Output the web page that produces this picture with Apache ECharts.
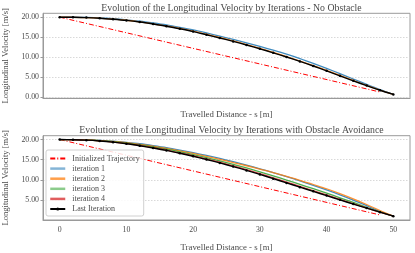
<!DOCTYPE html>
<html><head><meta charset="utf-8">
<script src="https://cdn.jsdelivr.net/npm/echarts@6/dist/echarts.min.js"></script>
<style>html,body{margin:0;padding:0;background:#fff}#c{width:415px;height:253px}</style>
</head><body><div id="c"></div>
<script>
const distance = [0,2,4,6,8,10,12,14,16,18,20,22,24,26,28,30,32,34,36,38,40,42,44,46,48,50];
const initDistance = [0, 48];
const initVelocity = [20, 1.3];

const topIter1 = [20,19.98,19.93,19.82,19.62,19.35,19.0,18.55,18.05,17.45,16.8,16.05,15.25,14.45,13.6,12.7,11.75,10.75,9.65,8.45,7.2,5.9,4.55,3.2,1.9,0.7];
const topIter2 = [20,19.97,19.91,19.77,19.53,19.23,18.84,18.35,17.82,17.2,16.52,15.74,14.93,14.08,13.17,12.2,11.2,10.15,9.05,7.9,6.7,5.45,4.2,2.95,1.78,0.7];
const topLast  = [20,19.97,19.9,19.75,19.5,19.2,18.8,18.3,17.75,17.1,16.4,15.6,14.8,13.95,13.05,12.1,11.1,10.05,8.95,7.8,6.6,5.35,4.1,2.9,1.75,0.7];

const botIter1 = [20,19.98,19.92,19.8,19.6,19.3,18.95,18.5,18.0,17.4,16.75,16.05,15.3,14.5,13.65,12.75,11.8,10.8,9.75,8.65,7.5,6.3,5.0,3.6,2.2,1.0];
const botIter2 = [20,19.97,19.9,19.75,19.52,19.2,18.8,18.35,17.8,17.2,16.55,15.85,15.1,14.3,13.5,12.65,11.8,10.85,9.9,8.85,7.8,6.6,5.3,3.9,2.4,1.0];
const botIter3 = [20,19.96,19.88,19.7,19.45,19.1,18.65,18.15,17.6,16.95,16.25,15.5,14.7,13.85,12.95,12.0,11.0,9.95,8.9,7.8,6.7,5.55,4.4,3.2,2.05,1.0];
const botIter4 = [20,19.95,19.86,19.67,19.38,19.0,18.52,17.98,17.4,16.72,15.98,15.2,14.37,13.48,12.55,11.55,10.5,9.45,8.4,7.32,6.25,5.17,4.1,3.05,2.0,1.0];
const botLast  = [20,19.95,19.85,19.65,19.35,18.95,18.45,17.9,17.3,16.6,15.85,15.05,14.2,13.3,12.35,11.35,10.3,9.25,8.2,7.15,6.1,5.05,4.0,3.0,2.0,1.0];

const xTicks = [0,10,20,30,40,50];
const yTicks = [0,5,10,15,20];
const titles = ['Evolution of the Longitudinal Velocity by Iterations - No Obstacle',
                'Evolution of the Longitudinal Velocity by Iterations with Obstacle Avoidance'];
const legendNames = ['Initialized Trajectory','iteration 1','iteration 2','iteration 3','iteration 4','Last Iteration'];

const FONT = 'Liberation Serif';
const TXT = '#4a4a4a';
const AX = '#9a9a9a';
const pairs = (xs, ys) => xs.map((x,i)=>[x, ys[i]]);

function xAxis(gi, showLabels){
  return {type:'value', gridIndex:gi, min:-2.5, max:52.5,
    name:'Travelled Distance - s [m]', nameLocation:'middle', nameGap: showLabels?23:12,
    nameTextStyle:{fontFamily:FONT,fontSize:8.8,color:TXT},
    axisLine:{show:true,onZero:false,lineStyle:{color:AX,width:1}},
    axisTick:{show:false, customValues:xTicks},
    axisLabel:{show:showLabels, customValues:xTicks, fontFamily:FONT,fontSize:7.8,color:TXT,margin:6},
    splitLine:{show:false}};
}
function yAxis(gi, mn, mx){
  return {type:'value', gridIndex:gi, min:mn, max:mx,
    name:'Longitudinal Velocity [m/s]', nameLocation:'middle', nameGap:29.5,
    nameTextStyle:{fontFamily:FONT,fontSize:8.6,color:TXT},
    axisLine:{show:true,onZero:false,lineStyle:{color:AX,width:1}},
    axisTick:{show:true, length:2.5, customValues:yTicks, lineStyle:{color:AX}},
    axisLabel:{customValues:yTicks, fontFamily:FONT,fontSize:7.8,color:TXT,margin:4,
      formatter:v=>v.toFixed(2)},
    splitLine:{show:true,lineStyle:{color:'#cfcfcf',type:[1.5,1.5],width:0.8}}};
}
const DASHDOT = [5,2,1,2];
function initSeries(gi){
  return {name:legendNames[0], type:'line', xAxisIndex:gi, yAxisIndex:gi, data:pairs(initDistance, initVelocity),
    symbol:'none', lineStyle:{color:'#ff0000',width:1,type:DASHDOT}, itemStyle:{color:'#ff0000'}, z:2};
}
function iterSeries(gi, name, arr, color){
  return {name, type:'line', xAxisIndex:gi, yAxisIndex:gi, data:pairs(distance, arr),
    symbol:'none', smooth:0.3, lineStyle:{color,width:1.3,opacity:0.85}, itemStyle:{color}, z:3};
}
function lastSeries(gi, arr){
  return {name:legendNames[5], type:'line', xAxisIndex:gi, yAxisIndex:gi, data:pairs(distance, arr),
    symbol:'circle', symbolSize:2.5, showSymbol:true, smooth:0.3,
    lineStyle:{color:'#000',width:1.4}, itemStyle:{color:'#000'}, z:5};
}
const C1='#1f77b4', C2='#ff7f0e', C3='#2ca02c', C4='#d62728';
const hide = {opacity:0};

const chart = echarts.init(document.getElementById('c'), null, {renderer:'canvas'});
chart.setOption({
  animation:false,
  backgroundColor:'#fff',
  textStyle:{fontFamily:FONT},
  title:[
    {text:titles[0], left:226.5, textAlign:'center', top:-2, textStyle:{fontFamily:FONT,fontSize:9.8,fontWeight:'normal',color:TXT}},
    {text:titles[1], left:226.5, textAlign:'center', top:120, textStyle:{fontFamily:FONT,fontSize:9.8,fontWeight:'normal',color:TXT}}
  ],
  grid:[
    {left:43, top:13.3, width:367, height:85, outerBoundsMode:'none', containLabel:false, show:true, borderColor:AX, borderWidth:1, backgroundColor:'transparent'},
    {left:43, top:135.7, width:367, height:84.3, outerBoundsMode:'none', containLabel:false, show:true, borderColor:AX, borderWidth:1, backgroundColor:'transparent'}
  ],
  xAxis:[xAxis(0,false), xAxis(1,true)],
  yAxis:[yAxis(0,-0.27,20.97), yAxis(1,0.05,20.95)],
  legend:{orient:'vertical', left:46, top:150, padding:[4.5,4,3,3], itemGap:2.1, itemWidth:15, itemHeight:4,
    backgroundColor:'rgba(255,255,255,0.85)', borderColor:'#d0d0d0', borderWidth:1, borderRadius:2,
    textStyle:{fontFamily:FONT,fontSize:8,color:TXT,padding:[0,0,0,2]},
    data:[
      {name:legendNames[0], itemStyle:hide},
      {name:legendNames[1], itemStyle:hide, lineStyle:{width:2.5,opacity:0.55}},
      {name:legendNames[2], itemStyle:hide, lineStyle:{width:2.5,opacity:0.75}},
      {name:legendNames[3], itemStyle:hide, lineStyle:{width:2.5,opacity:0.55}},
      {name:legendNames[4], itemStyle:hide, lineStyle:{width:2.5,opacity:0.75}},
      {name:legendNames[5]}
    ]},
  series:[
    initSeries(0),
    iterSeries(0, legendNames[1], topIter1, C1),
    iterSeries(0, legendNames[2], topIter2, C2),
    lastSeries(0, topLast),
    initSeries(1),
    iterSeries(1, legendNames[1], botIter1, C1),
    iterSeries(1, legendNames[2], botIter2, C2),
    iterSeries(1, legendNames[3], botIter3, C3),
    iterSeries(1, legendNames[4], botIter4, C4),
    lastSeries(1, botLast)
  ]
});
</script></body></html>
